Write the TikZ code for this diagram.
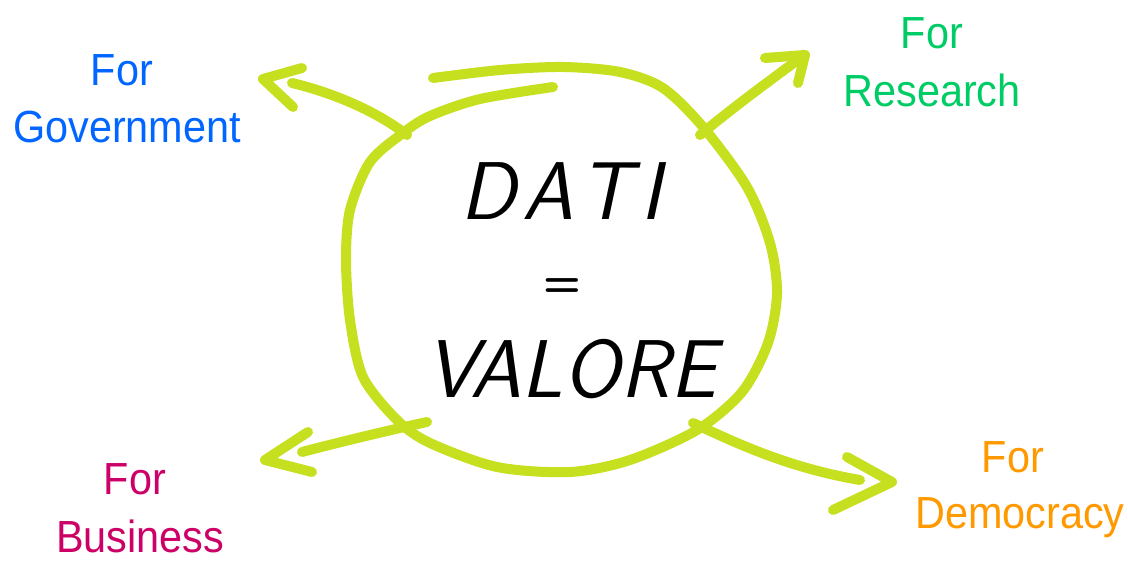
\documentclass[tikz,border=0pt]{standalone}
\usepackage{fontspec}
\setmainfont{Liberation Sans}[FakeStretch=0.92]
\usetikzlibrary{positioning}

\definecolor{limeline}{HTML}{C6DF1F}
\definecolor{govblue}{HTML}{0066FF}
\definecolor{resgreen}{HTML}{00CC66}
\definecolor{busmagenta}{HTML}{CC0066}
\definecolor{demorange}{HTML}{FF9900}

\begin{document}
\begin{tikzpicture}[x=1pt,y=-1pt,node distance=25pt,
    stroke/.style={draw=limeline,line width=10pt,line cap=round,line join=round},
    for node/.style={inner sep=0pt,anchor=base,font=\fontsize{45}{50}\selectfont},
    word node/.style={inner sep=0pt,font=\fontsize{45}{50}\selectfont},
    hand node/.style={inner sep=0pt,anchor=base,font=\sffamily\itshape\fontsize{82}{90}\selectfont}]

  \useasboundingbox (0,0) rectangle (1128,562);

  \node[hand node] (dati) at (561,219) {D\kern6pt A\kern6pt T\kern8pt I};
  \node[hand node,font=\sffamily\bfseries\fontsize{44}{48}\selectfont] (eq) at (562,296) {=};
  \node[hand node] (valore) at (571,397) {VALORE};

  \node[for node,text=govblue] (forgov) at (122,85) {For};
  \node[word node,text=govblue,below=of forgov,xshift=5pt] (gov) {Government};
  \node[for node,text=resgreen] (forres) at (932,48) {For};
  \node[word node,text=resgreen,below=of forres] (res) {Research};
  \node[for node,text=busmagenta] (forbus) at (135,494) {For};
  \node[word node,text=busmagenta,below=of forbus,xshift=5pt] (bus) {Business};
  \node[for node,text=demorange] (fordem) at (1013,472) {For};
  \node[word node,text=demorange,below=of fordem,xshift=7pt] (dem) {Democracy};

  \draw[stroke] plot[smooth] coordinates {(553,87) (480,99) (430,116) (403,133)
    (370,162) (350,210) (346,260) (350,320) (363,377) (397,420) (430,443)
    (497,467) (570,472) (630,460) (697,430) (742,392) (768,343) (777,293)
    (770,243) (747,187) (703,127) (663,88) (620,72) (563,67) (500,70) (433,78)};

  \coordinate (govstart) at (407,135);
  \coordinate (govend) at (292,83);
  \coordinate (resstart) at (700,135);
  \coordinate (resend) at (795,62);
  \coordinate (busstart) at (427,422);
  \coordinate (busend) at (302,452);
  \coordinate (demstart) at (693,423);
  \coordinate (demend) at (860,480);

  \draw[stroke] (govstart) .. controls (375,110) and (330,92) .. (govend);
  \draw[stroke] (302,68) -- (263,79) -- (293,107);
  \draw[stroke] (resstart) .. controls (730,110) and (765,84) .. (resend);
  \draw[stroke] (765,58) -- (805,55) -- (798,83);
  \draw[stroke] (busstart) .. controls (390,430) and (340,442) .. (busend);
  \draw[stroke] (308,432) -- (265,460) -- (312,472);
  \draw[stroke] (demstart) .. controls (740,445) and (790,468) .. (demend);
  \draw[stroke] (847,457) -- (892,482) -- (833,510);

\end{tikzpicture}
\end{document}
